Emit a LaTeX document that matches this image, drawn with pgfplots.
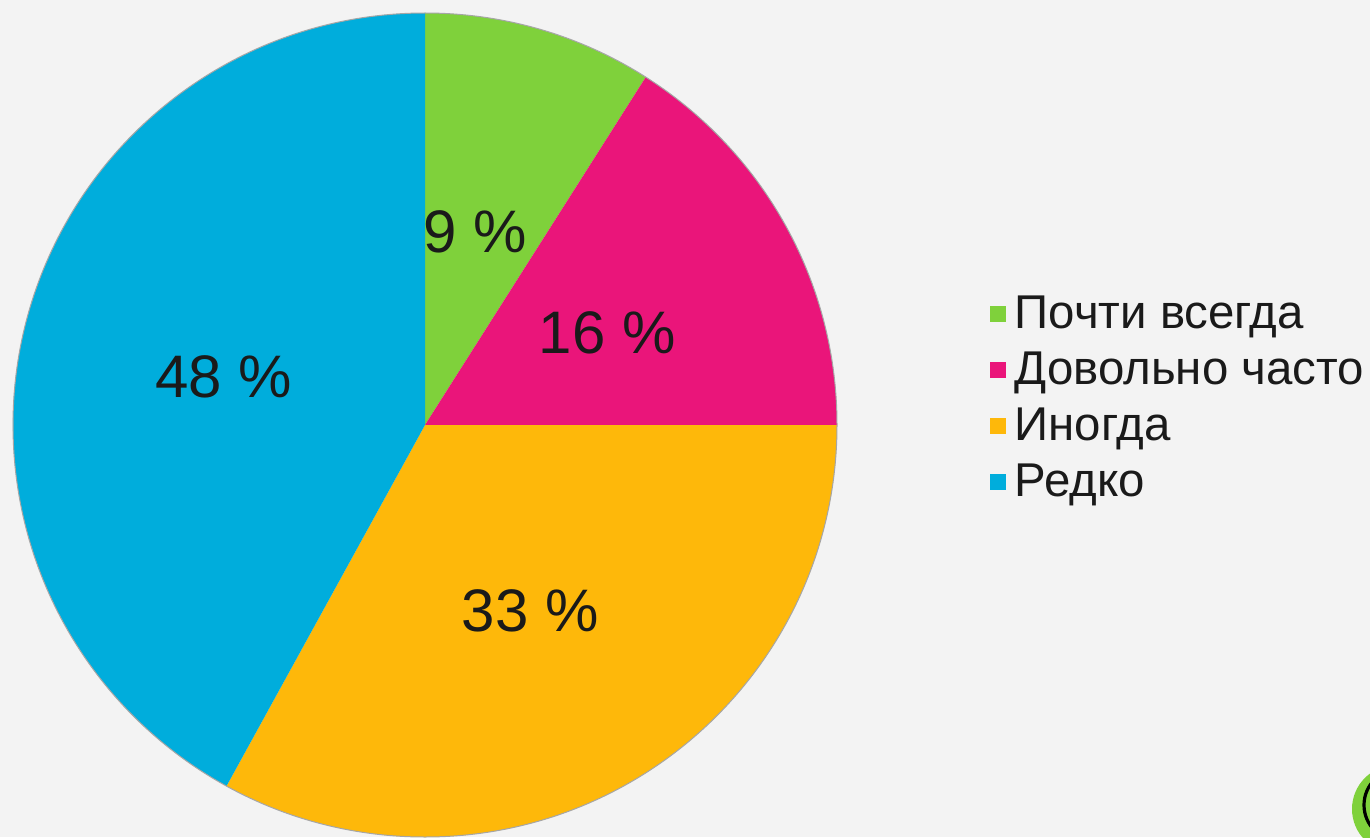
\documentclass[border=0pt]{standalone}
\usepackage{pgfplots}
\pgfplotsset{compat=1.18}
\usepackage{fontspec}
\setmainfont{Liberation Sans}
\definecolor{cgreen}{HTML}{7FD13B}
\definecolor{cmag}{HTML}{EA157A}
\definecolor{cyel}{HTML}{FEB80A}
\definecolor{cblue}{HTML}{00ADDC}
\definecolor{bgcol}{RGB}{243,243,243}
\definecolor{txt}{HTML}{1A1A1A}
% slice shares (percent of full circle)
\def\vA{9}\def\vB{16}\def\vC{33}\def\vD{42}
\pgfmathsetmacro\aA{90}
\pgfmathsetmacro\aB{\aA-3.6*\vA}
\pgfmathsetmacro\aC{\aB-3.6*\vB}
\pgfmathsetmacro\aD{\aC-3.6*\vC}
\pgfmathsetmacro\aE{\aD-3.6*\vD}
\begin{document}
\begin{tikzpicture}
\clip (0,0) rectangle (685pt,418.5pt);
\fill[bgcol] (0,0) rectangle (685pt,418.5pt);
\begin{axis}[
  at={(212.5pt,206pt)}, anchor=center,
  width=412pt, height=412pt, scale only axis,
  xmin=-1, xmax=1, ymin=-1, ymax=1,
  hide axis, clip=false,
  legend style={at={(rel axis cs:1.185,0.662)}, anchor=north west,
    draw=none, fill=none, font=\fontsize{23.7}{28}\selectfont\color{txt},
    row sep=6.2pt, inner sep=0pt},
  legend cell align=left,
  legend image code/.code={\fill[#1] (0pt,-3.6pt) rectangle (7.4pt,3.6pt); \path (10pt,0pt);},
]
\addlegendimage{cgreen}
\addlegendentry{Почти всегда}
\addlegendimage{cmag}
\addlegendentry{Довольно часто}
\addlegendimage{cyel}
\addlegendentry{Иногда}
\addlegendimage{cblue}
\addlegendentry{Редко}
\fill[cgreen] (axis cs:0,0) -- ++(\aA:206pt) arc[start angle=\aA, end angle=\aB, radius=206pt] -- cycle;
\fill[cmag] (axis cs:0,0) -- ++(\aB:206pt) arc[start angle=\aB, end angle=\aC, radius=206pt] -- cycle;
\fill[cyel] (axis cs:0,0) -- ++(\aC:206pt) arc[start angle=\aC, end angle=\aD, radius=206pt] -- cycle;
\fill[cblue] (axis cs:0,0) -- ++(\aD:206pt) arc[start angle=\aD, end angle=\aE, radius=206pt] -- cycle;
\draw[gray!70, line width=0.5pt] (axis cs:0,0) circle[radius=206pt];
\node[txt, font=\fontsize{30}{36}\selectfont] at (axis cs:0.121,0.468) {9 \%};
\node[txt, font=\fontsize{30}{36}\selectfont] at (axis cs:0.442,0.223) {16 \%};
\node[txt, font=\fontsize{30}{36}\selectfont] at (axis cs:-0.488,0.118) {48 \%};
\node[txt, font=\fontsize{30}{36}\selectfont] at (axis cs:0.255,-0.452) {33 \%};
\end{axis}
\fill[cgreen] (698pt,14pt) circle[radius=22pt];
\draw[black, line width=1.6pt] (700pt,16pt) circle[radius=18pt];
\end{tikzpicture}
\end{document}
